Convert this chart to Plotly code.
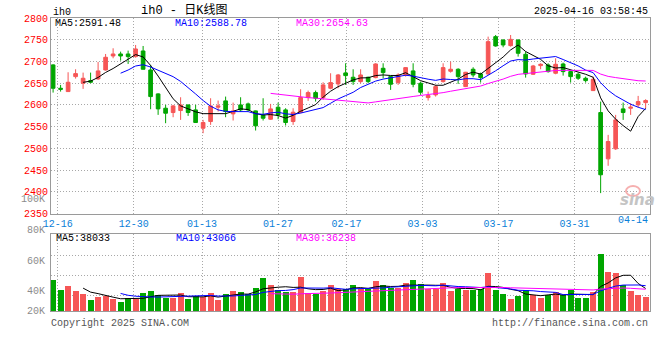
import plotly.graph_objects as go
import pandas as pd

# ---------------- data ----------------
dates = ["12-13",
         "12-16", "12-17", "12-18", "12-19", "12-20",
         "12-23", "12-24", "12-25", "12-26", "12-27",
         "12-30", "12-31", "01-02", "01-03",
         "01-06", "01-07", "01-08", "01-09", "01-10",
         "01-13", "01-14", "01-15", "01-16", "01-17",
         "01-20", "01-21", "01-22", "01-23", "01-24",
         "01-27", "02-05", "02-06", "02-07",
         "02-10", "02-11", "02-12", "02-13", "02-14",
         "02-17", "02-18", "02-19", "02-20", "02-21",
         "02-24", "02-25", "02-26", "02-27", "02-28",
         "03-03", "03-04", "03-05", "03-06", "03-07",
         "03-10", "03-11", "03-12", "03-13", "03-14",
         "03-17", "03-18", "03-19", "03-20", "03-21",
         "03-24", "03-25", "03-26", "03-27", "03-28",
         "03-31", "04-01", "04-02", "04-03",
         "04-07", "04-08", "04-09", "04-10", "04-11",
         "04-14", "04-15"]

opens = [2692.0, 2638.3, 2630.6, 2665.1, 2649.8, 2655.9, 2659.8, 2680.4, 2712.6, 2717.2,
         2717.2, 2711.1, 2724.1, 2680.4, 2625.3, 2592.3, 2582.4, 2587.0, 2600.0, 2588.5,
         2546.3, 2561.7, 2594.6, 2609.2, 2579.3, 2600.0, 2602.3, 2586.2, 2577.0, 2567.0,
         2594.6, 2588.5, 2561.7, 2583.1, 2616.8, 2628.3, 2616.8, 2638.3, 2648.3, 2673.6,
         2663.6, 2653.6, 2663.6, 2662.8, 2684.3, 2665.1, 2651.3, 2668.9, 2678.2, 2649.8,
         2616.8, 2623.0, 2653.6, 2677.4, 2682.0, 2642.1, 2682.0, 2671.2, 2671.2, 2757.1,
         2749.4, 2736.4, 2749.4, 2716.5, 2670.5, 2690.4, 2692.0, 2672.8, 2694.2, 2676.6,
         2670.5, 2661.3, 2632.9, 2582.4, 2475.8, 2498.8, 2590.8, 2592.3, 2600.0, 2605.3]

highs = [2693.5, 2646.0, 2675.1, 2682.0, 2674.3, 2674.3, 2698.8, 2717.2, 2730.3, 2722.6,
         2724.9, 2737.9, 2735.6, 2692.0, 2626.8, 2600.0, 2600.0, 2617.6, 2600.5, 2600.0,
         2565.5, 2615.3, 2610.0, 2619.1, 2605.3, 2617.6, 2605.3, 2587.0, 2615.3, 2602.3,
         2605.3, 2592.3, 2592.3, 2636.0, 2632.9, 2632.9, 2652.1, 2672.8, 2671.2, 2695.8,
         2682.0, 2682.0, 2665.1, 2695.8, 2695.8, 2666.7, 2672.8, 2686.6, 2695.8, 2653.6,
         2630.6, 2646.0, 2695.8, 2699.6, 2684.3, 2676.0, 2686.6, 2674.3, 2757.1, 2760.9,
         2750.9, 2760.9, 2750.9, 2722.6, 2692.0, 2695.8, 2695.8, 2707.3, 2697.3, 2678.9,
         2674.3, 2665.1, 2665.1, 2607.6, 2531.0, 2577.0, 2605.3, 2603.8, 2620.7, 2613.0]

lows = [2628.3, 2630.6, 2630.0, 2660.5, 2636.8, 2649.8, 2657.5, 2678.9, 2707.3, 2701.9,
        2694.2, 2708.8, 2681.5, 2590.0, 2577.0, 2557.8, 2571.6, 2565.5, 2574.7, 2558.5,
        2534.8, 2554.0, 2584.7, 2571.6, 2564.0, 2584.7, 2584.7, 2541.0, 2564.0, 2565.5,
        2567.0, 2552.5, 2554.0, 2580.8, 2609.2, 2607.6, 2611.5, 2636.0, 2638.3, 2646.0,
        2646.0, 2649.8, 2649.8, 2661.3, 2661.3, 2634.5, 2646.0, 2665.1, 2640.6, 2623.0,
        2610.0, 2619.1, 2651.3, 2674.3, 2648.3, 2641.0, 2663.6, 2651.3, 2668.9, 2734.1,
        2732.6, 2734.1, 2711.1, 2662.8, 2668.9, 2682.0, 2674.3, 2670.5, 2667.4, 2651.3,
        2657.5, 2651.3, 2632.0, 2396.9, 2459.8, 2496.5, 2565.5, 2577.0, 2593.9, 2592.3]

closes = [2638.3, 2636.0, 2652.1, 2672.0, 2661.3, 2652.1, 2678.2, 2709.6, 2717.2, 2712.6,
          2711.1, 2728.7, 2682.0, 2619.1, 2590.8, 2580.8, 2597.7, 2600.0, 2582.4, 2559.4,
          2559.4, 2597.7, 2597.7, 2584.7, 2586.2, 2588.5, 2588.5, 2551.7, 2569.3, 2590.8,
          2577.0, 2559.4, 2583.1, 2616.8, 2628.3, 2615.3, 2646.0, 2651.3, 2668.9, 2667.4,
          2653.6, 2668.9, 2653.6, 2694.2, 2674.3, 2647.5, 2668.9, 2685.8, 2647.5, 2629.1,
          2621.4, 2642.1, 2685.8, 2682.0, 2665.1, 2675.1, 2668.9, 2662.8, 2745.6, 2735.6,
          2737.9, 2750.9, 2718.8, 2671.2, 2689.6, 2693.5, 2676.6, 2693.5, 2676.6, 2665.1,
          2661.3, 2655.9, 2659.0, 2439.1, 2515.7, 2565.5, 2582.4, 2594.6, 2607.6, 2610.0]

volumes = [52700, 35700, 42500, 34000, 28900, 18700, 23200, 25500, 21000, 15300,
           21500, 19800, 30000, 34000, 27200, 22700, 21500, 30000, 19800, 25500,
           23200, 30000, 19300, 28900, 34000, 31700, 28900, 38500, 55500, 43600,
           35100, 32900, 32900, 57200, 30000, 28300, 34000, 43600, 36800, 36800,
           43600, 37400, 36800, 50400, 43600, 39700, 38500, 47000, 52100, 45300,
           36800, 36800, 47000, 34600, 36800, 35700, 35700, 36800, 64000, 35100,
           28300, 19800, 24900, 35700, 26600, 22700, 26600, 31700, 26600, 35700,
           21500, 21500, 32900, 96300, 65700, 64000, 43600, 33400, 26600, 23200]

tick_dates = ["12-16", "12-30", "01-13", "01-27", "02-17", "03-03", "03-17", "03-31"]
last_tick_label = "04-14"
price_ticks = [2350, 2400, 2450, 2500, 2550, 2600, 2650, 2700, 2750, 2800]
vol_grid = [26000, 60000, 94000]
vol_axis_labels = ["100K", "80K", "60K", "40K", "20K"]
price_ma_text = ["MA5:2591.48", "MA10:2588.78", "MA30:2654.63"]
vol_ma_text = ["MA5:38033", "MA10:43066", "MA30:36238"]
title_text = "ih0 - 日K线图"
symbol_text = "ih0"
time_text = "2025-04-16 03:58:45"
copyright_text = "Copyright 2025 SINA.COM"
url_text = "http://finance.sina.com.cn"

# ---------------- styling ----------------
RED = "#f65656"
GREEN = "#00a600"
MA_COLORS = ["#000000", "#0000ff", "#ff00ff"]
FRAME = "#9a9a9a"
GRID = "#a8a8a8"
BLUE_TXT = "#0a80d8"
MONO = "Liberation Mono, DejaVu Sans Mono, monospace"

W_FIG, H_FIG = 660, 360
L, R, T, B = 51, 10, 18, 49
PW, PH = W_FIG - L - R, H_FIG - T - B


def px_x(p):
    return (p - L) / PW


def px_y(p):
    return (H_FIG - B - p) / PH


idx = list(range(len(dates)))
close_s = pd.Series(closes)
vol_s = pd.Series(volumes)
ma_windows = [5, 10, 30]

fig = go.Figure()

# candles
fig.add_trace(go.Candlestick(
    x=idx, open=opens, high=highs, low=lows, close=closes,
    increasing=dict(line=dict(color=RED, width=1), fillcolor=RED),
    decreasing=dict(line=dict(color=GREEN, width=1), fillcolor=GREEN),
    whiskerwidth=0, xaxis="x", yaxis="y", hoverinfo="skip"))

# price MAs
for w, c in zip(ma_windows, MA_COLORS):
    fig.add_trace(go.Scatter(x=idx, y=close_s.rolling(w).mean(), mode="lines",
                             line=dict(color=c, width=1), xaxis="x", yaxis="y",
                             hoverinfo="skip"))

# volume bars
vol_colors = [RED if c >= o else GREEN for o, c in zip(opens, closes)]
fig.add_trace(go.Bar(x=idx, y=volumes, marker=dict(color=vol_colors, line=dict(width=0)),
                     width=0.8, xaxis="x2", yaxis="y2", hoverinfo="skip"))

for w, c in zip(ma_windows, MA_COLORS):
    fig.add_trace(go.Scatter(x=idx, y=vol_s.rolling(w).mean(), mode="lines",
                             line=dict(color=c, width=1), xaxis="x2", yaxis="y2",
                             hoverinfo="skip"))

tick_pos = [dates.index(d) * 1.0135 - 0.41 for d in tick_dates]
x_range = [-0.28, 79.58]

axis_common = dict(showline=True, mirror=True, linecolor=FRAME, linewidth=1,
                   zeroline=False, showgrid=True, gridcolor=GRID, griddash="1px,2px",
                   gridwidth=1, ticks="", fixedrange=True)

fig.update_layout(
    width=W_FIG, height=H_FIG,
    margin=dict(l=L, r=R, t=T, b=B, pad=0),
    paper_bgcolor="white", plot_bgcolor="white",
    showlegend=False, hovermode=False, boxgap=0.3,
    bargap=0,
    xaxis=dict(domain=[0, 1], anchor="y", range=x_range, tickvals=tick_pos,
               ticktext=tick_dates, tickfont=dict(family=MONO, size=10, color=BLUE_TXT),
               rangeslider=dict(visible=False), **axis_common),
    yaxis=dict(domain=[px_y(213.5), 1], anchor="x", range=[2350, 2800],
               tickvals=price_ticks, tickfont=dict(family=MONO, size=10, color="#ff0000"),
               **axis_common),
    xaxis2=dict(domain=[0, 1], anchor="y2", range=x_range, tickvals=tick_pos,
                showticklabels=False, **axis_common),
    yaxis2=dict(domain=[0, px_y(234.3)], anchor="x2", range=[0, 130000],
                tickvals=vol_grid, showticklabels=False, **axis_common),
)

ann = []


def add_text(text, x, y, anchor="left", color="#000000", size=10, family=MONO):
    ann.append(dict(text=text, x=px_x(x), y=px_y(y), xref="paper", yref="paper",
                    xanchor=anchor, yanchor="middle", showarrow=False,
                    font=dict(family=family, size=size, color=color)))


add_text(symbol_text, 51, 12.5)
add_text(title_text, 139, 10, size=12, family="Liberation Mono, Noto Sans CJK SC")
add_text(time_text, 650, 12, anchor="right")

for t, xp, c in zip(price_ma_text, [53, 173, 294], MA_COLORS):
    add_text(t, xp, 23.5, color=c)
for t, xp, c in zip(vol_ma_text, [54, 174, 294], MA_COLORS):
    add_text(t, xp, 238.5, color=c)

for t, yp in zip(vol_axis_labels, [199.5, 231, 261, 291, 311]):
    add_text(t, 47, yp, anchor="right", color="#8c8c8c")

add_text(last_tick_label, 650, 220, anchor="right", color=BLUE_TXT)
add_text(copyright_text, 49, 323.5, color="#555555")
add_text(url_text, 650, 323.5, anchor="right", color="#555555")
add_text("<b><i>sina</i></b>", 637, 199.5, anchor="center", color="#c4c4c4", size=15,
         family="DejaVu Sans")

fig.update_layout(annotations=ann)
fig.add_shape(type="circle", xref="paper", yref="paper",
              x0=px_x(626), x1=px_x(640), y0=px_y(196), y1=px_y(186),
              line=dict(color="#f6b0b0", width=2), layer="above")

fig.write_html("out.html",
               config={"displayModeBar": False, "staticPlot": True},
               post_script="document.body.style.margin='0px';"
                           "document.body.style.padding='0px';")
